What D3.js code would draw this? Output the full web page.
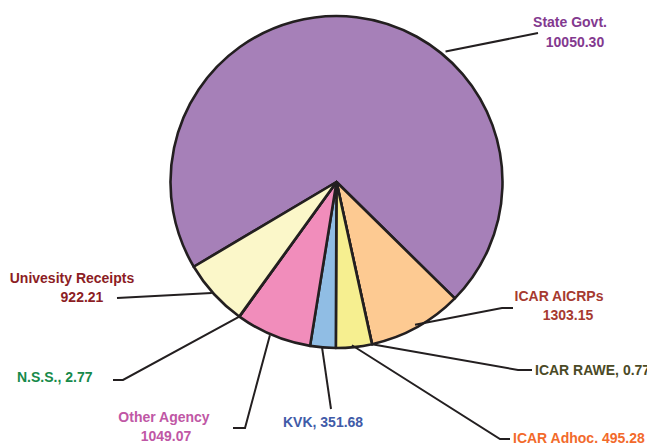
<!DOCTYPE html>
<html>
<head>
<meta charset="utf-8">
<script src="https://cdn.jsdelivr.net/npm/d3@7/dist/d3.min.js"></script>
<style>
  html, body { margin: 0; padding: 0; background: #fff; }
  svg { display: block; }
  text { font-family: "Liberation Sans", Arial, sans-serif; font-weight: bold; font-size: 14px; }
</style>
</head>
<body>
<svg id="chart" width="647" height="443"></svg>
<script>
// ---- data ----
const categories = ["State Govt.", "ICAR AICRPs", "ICAR RAWE", "ICAR Adhoc.", "KVK", "Other Agency", "N.S.S.", "Univesity Receipts"];
const values = [10050.30, 1303.15, 0.77, 495.28, 351.68, 1049.07, 2.77, 922.21];
const valueLabels = ["10050.30", "1303.15", "0.77", "495.28", "351.68", "1049.07", "2.77", "922.21"];

// ---- styling / layout ----
const fills = ["#a680b8", "#fdca92", "#f6ef90", "#f6ef90", "#90bde4", "#f18dbb", "#f18dbb", "#fbf7c9"];
const textColors = ["#83398f", "#a63a30", "#4b4a26", "#f26a2b", "#3f5ba8", "#c057a5", "#178a4a", "#8c1d24"];
const cx = 336.5, cy = 182, R = 166;
const startDeg = 239.3;

// label layouts: leader start (angle deg, radius), leader path points after start, text lines
const layouts = [
  { a: 39.9, r: 170, pts: [[538, 33]], lines: [["State Govt.", 570, 27], ["10050.30", 575, 47]], anchor: "middle" },
  { a: 151.2, r: 163, pts: [[502, 308], [513, 308]], lines: [["ICAR AICRPs", 559, 301], ["1303.15", 568, 320]], anchor: "middle" },
  { a: null, r: 166, pts: [[518, 370], [532, 370]], lines: [["ICAR RAWE, 0.77", 535, 375]], anchor: "start" },
  { a: 174.6, r: 164, pts: [[500, 439], [510, 439]], lines: [["ICAR Adhoc. 495.28", 513, 443]], anchor: "start" },
  { a: 185, r: 166, pts: [[331, 409]], lines: [["KVK, 351.68", 283, 427]], anchor: "start" },
  { a: 203.5, r: 167, pts: [[245, 428], [233, 428]], lines: [["Other Agency", 164, 422], ["1049.07", 166, 441]], anchor: "middle" },
  { a: null, r: 166, pts: [[123, 380], [113, 380]], lines: [["N.S.S., 2.77", 17, 382]], anchor: "start" },
  { a: 228.3, r: 167, pts: [[117, 298]], lines: [["Univesity Receipts", 72, 283], ["922.21", 82, 302]], anchor: "middle" }
];

const svg = d3.select("#chart");
const g = svg.append("g").attr("transform", `translate(${cx},${cy})`);

const pie = d3.pie().sort(null).value(d => d)
  .startAngle(startDeg * Math.PI / 180)
  .endAngle(startDeg * Math.PI / 180 + 2 * Math.PI);
const arcs = pie(values);
const arc = d3.arc().innerRadius(0).outerRadius(R);

g.selectAll("path.slice").data(arcs).enter().append("path")
  .attr("class", "slice")
  .attr("d", arc)
  .attr("fill", (d, i) => fills[i])
  .attr("stroke", "#231f20")
  .attr("stroke-width", 2.6)
  .attr("stroke-linejoin", "round");

// leader lines
const line = d3.line();
arcs.forEach((d, i) => {
  const L = layouts[i];
  const ang = L.a === null ? (d.startAngle + d.endAngle) / 2 : L.a * Math.PI / 180;
  const sx = cx + L.r * Math.sin(ang), sy = cy - L.r * Math.cos(ang);
  svg.append("path")
    .attr("d", line([[sx, sy], ...L.pts]))
    .attr("fill", "none")
    .attr("stroke", "#231f20")
    .attr("stroke-width", 2);
  L.lines.forEach(([t, x, y]) => {
    svg.append("text")
      .attr("x", x).attr("y", y)
      .attr("text-anchor", L.anchor)
      .attr("fill", textColors[i])
      .text(t);
  });
});
</script>
</body>
</html>
